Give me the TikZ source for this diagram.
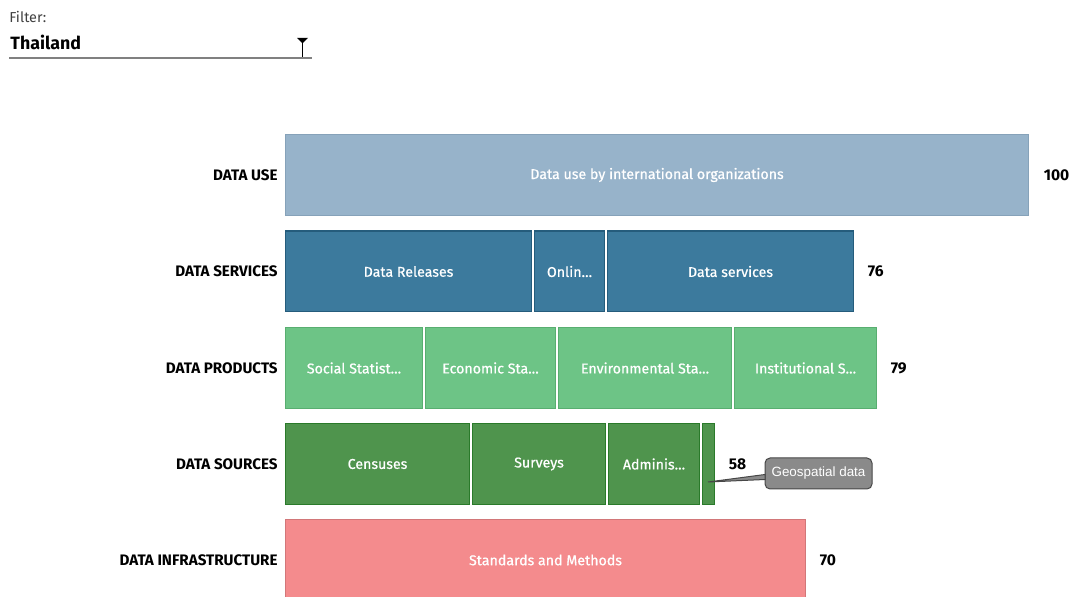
\documentclass[tikz,border=0pt]{standalone}
\usepackage{fontspec}
\setmainfont{Fira Sans}
\newfontfamily\medfont[FakeBold=0.7]{Fira Sans}
\newfontfamily\tipfont{Liberation Sans}
\usetikzlibrary{positioning,calc}

\definecolor{usefill}{HTML}{97B3CA}
\definecolor{useline}{HTML}{86A2B9}
\definecolor{srvfill}{HTML}{3C7A9D}
\definecolor{srvline}{HTML}{255C7C}
\definecolor{prdfill}{HTML}{6DC486}
\definecolor{prdline}{HTML}{58AE70}
\definecolor{srcfill}{HTML}{4F944D}
\definecolor{srcline}{HTML}{2A7A2A}
\definecolor{infill}{HTML}{F48B8D}
\definecolor{inline}{HTML}{D27779}
\definecolor{tipfill}{HTML}{8A8A8A}
\definecolor{tipline}{HTML}{474747}

\tikzset{
  bar/.style={draw, line width=0.6pt, inner sep=0pt, outer sep=0.3pt, minimum height=40.4pt,
    text=white, font=\medfont\fontsize{7.1}{8}\selectfont},
  rowlabel/.style={anchor=east, inner sep=0pt, font=\fontsize{7.6}{9}\selectfont\bfseries},
  score/.style={inner sep=0pt, font=\fontsize{7.8}{9}\selectfont\bfseries},
  tipbox/.style={draw=tipline, fill=tipfill, rounded corners=2.5pt, line width=0.5pt,
    minimum width=53.5pt, minimum height=15.5pt, inner sep=0pt, text=white,
    font=\tipfont\fontsize{6.7}{8}\selectfont}
}

\begin{document}
\begin{tikzpicture}[x=0.5pt, y=-0.5pt]
  \useasboundingbox (0,0) rectangle (1070,597);
  \clip (0,0) rectangle (1070,597);

  % filter box
  \node[anchor=west, inner sep=0pt, text=black!75, font=\fontsize{7.2}{8}\selectfont] (filtlab) at (9,17) {Filter:};
  \node[anchor=west, inner sep=0pt, font=\fontsize{8.9}{10}\selectfont\bfseries] (country) at (10,42) {Thailand};
  \coordinate (ulA) at (9,58);
  \coordinate (ulB) at (312,58);
  \draw[black!50, line width=0.6pt] (ulA) -- (ulB);
  \fill (297,38) -- (308,38) -- (302.5,43.5) -- cycle;
  \draw[line width=0.9pt] (302.5,42) -- (302.5,57);

  % data use
  \node[rowlabel] (uselab) at (278,175) {DATA USE};
  \node[bar, fill=usefill, draw=useline, minimum width=371.4pt, anchor=west] (use) at (285,175) {Data use by international organizations};
  \node[score, right=7.2pt of use] (useval) {100};

  % data services
  \node[rowlabel] (srvlab) at (278,271.5) {DATA SERVICES};
  \node[bar, fill=srvfill, draw=srvline, minimum width=122.9pt, anchor=west] (srvA) at (285,271.5) {Data Releases};
  \node[bar, fill=srvfill, draw=srvline, minimum width=34.9pt, right=1pt of srvA] (srvB) {Onlin\ldots};
  \node[bar, fill=srvfill, draw=srvline, minimum width=122.9pt, right=1pt of srvB] (srvC) {Data services};
  \node[score, right=6.7pt of srvC] (srvval) {76};

  % data products
  \node[rowlabel] (prdlab) at (278,368) {DATA PRODUCTS};
  \node[bar, fill=prdfill, draw=prdline, minimum width=68.4pt, anchor=west] (prdA) at (285,368) {Social Statist\ldots};
  \node[bar, fill=prdfill, draw=prdline, minimum width=64.9pt, right=1pt of prdA] (prdB) {Economic Sta\ldots};
  \node[bar, fill=prdfill, draw=prdline, minimum width=86.4pt, right=1pt of prdB] (prdC) {Environmental Sta\ldots};
  \node[bar, fill=prdfill, draw=prdline, minimum width=70.9pt, right=1pt of prdC] (prdD) {Institutional S\ldots};
  \node[score, right=6.7pt of prdD] (prdval) {79};

  % data sources
  \node[rowlabel] (srclab) at (278,464) {DATA SOURCES};
  \node[bar, fill=srcfill, draw=srcline, minimum width=91.9pt, anchor=west] (srcA) at (285,464) {Censuses};
  \node[bar, fill=srcfill, draw=srcline, minimum width=66.4pt, right=1pt of srcA] (srcB) {Surveys};
  \node[bar, fill=srcfill, draw=srcline, minimum width=45.4pt, right=1pt of srcB] (srcC) {Adminis\ldots};
  \node[bar, fill=srcfill, draw=srcline, minimum width=5.9pt, right=1pt of srcC] (srcD) {};
  \node[score, right=6.7pt of srcD] (srcval) {58};

  % tooltip
  \node[tipbox] (geo) at (818.5,473.5) {Geospatial data};
  \coordinate (tip) at (708,482);
  \filldraw[fill=tipfill, draw=tipline, line width=0.5pt]
    (tip) -- ($(geo.west)+(0.5,1)$) -- ($(geo.west)+(0.5,6)$) -- cycle;

  % data infrastructure
  \node[rowlabel] (inlab) at (278,560) {DATA INFRASTRUCTURE};
  \node[bar, fill=infill, draw=inline, minimum width=259.9pt, anchor=west] (inA) at (285,560) {Standards and Methods};
  \node[score, right=6.7pt of inA] (inval) {70};
\end{tikzpicture}
\end{document}
